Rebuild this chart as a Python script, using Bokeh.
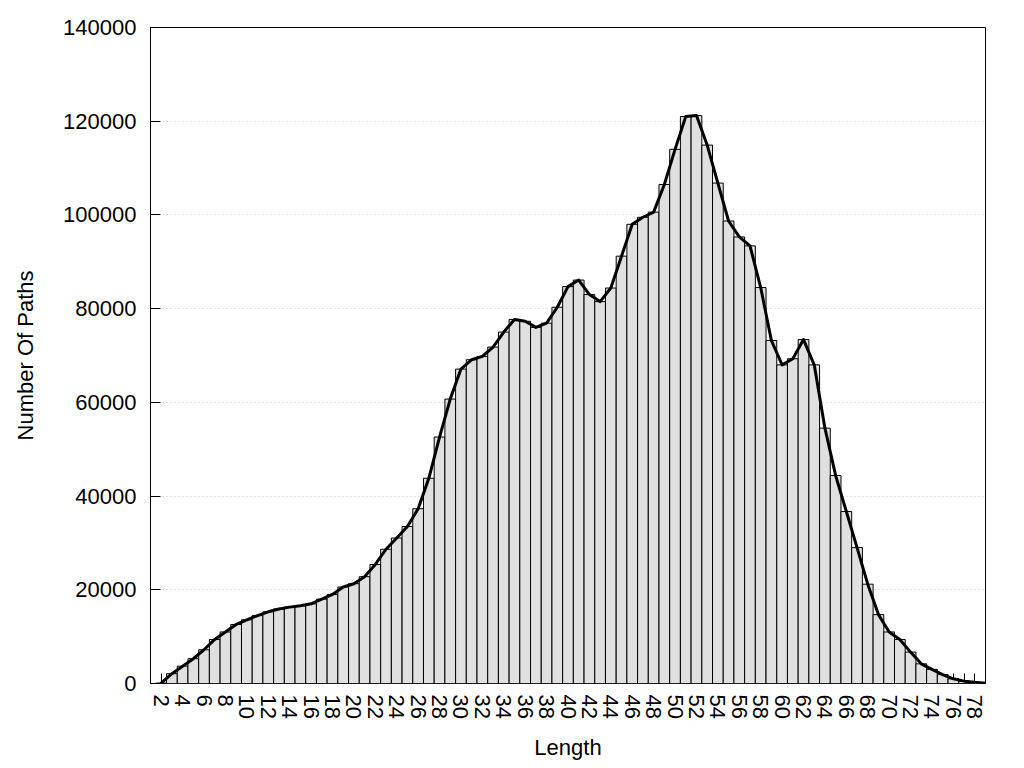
from bokeh.plotting import figure
from bokeh.models import FixedTicker, NumeralTickFormatter, Range1d, ColumnDataSource, LinearAxis
from bokeh.embed import file_html
from bokeh.resources import INLINE

# ---- data ----
lengths = list(range(2, 80))
counts = [
    100, 2100, 3700, 5300, 7200, 9400, 11000, 12600, 13600, 14500,
    15300, 15900, 16300, 16600, 17000, 18000, 19000, 20600, 21300, 22800,
    25400, 28650, 31050, 33500, 37300, 43800, 52600, 60700, 67100, 69100,
    69800, 71800, 75000, 77700, 77300, 76000, 76900, 80300, 84700, 86100,
    83000, 81500, 84400, 91200, 98000, 99500, 100600, 106500, 114000, 121000,
    121200, 114900, 106800, 98700, 95300, 93400, 84500, 73200, 68000, 69300,
    73400, 68000, 54500, 44400, 36700, 29000, 21200, 14700, 11000, 9400,
    6700, 4200, 3000, 1900, 1000, 500, 250, 60,
]
x_label_ticks = list(range(2, 79, 2))
x_minor_ticks = list(range(3, 79, 2))
y_ticks = [0, 20000, 40000, 60000, 80000, 100000, 120000, 140000]

FONT = "Liberation Sans"

src = ColumnDataSource(dict(x=lengths, top=counts))

p = figure(
    width=1000, height=762,
    x_range=Range1d(1, 79), y_range=Range1d(0, 140000),
    output_backend="svg", toolbar_location=None,
    min_border_left=150, min_border_right=15,
    min_border_top=27, min_border_bottom=77,
)

p.vbar(x="x", top="top", width=1, source=src,
       fill_color="#e0e0e0", line_color="black", line_width=1)
p.line(x="x", y="top", source=src, line_width=3, line_color="black",
       line_join="round", line_cap="round")

# frame
p.outline_line_color = "black"
p.outline_line_width = 1
p.outline_line_alpha = 1

# grids
p.xgrid.grid_line_color = None
p.ygrid.grid_line_color = "#c4c4c4"
p.ygrid.grid_line_dash = "1 3"
p.ygrid.grid_line_width = 1

# x axis 1: inward ticks only, drawn beneath the bars
xa = p.xaxis[0]
xa.ticker = FixedTicker(ticks=x_label_ticks, minor_ticks=x_minor_ticks)
xa.major_tick_in = 10
xa.major_tick_out = 0
xa.minor_tick_in = 10
xa.minor_tick_out = 0
xa.major_tick_line_color = "black"
xa.minor_tick_line_color = "black"
xa.major_label_text_font_size = "1px"
xa.major_label_text_alpha = 0
xa.major_label_standoff = 0
xa.axis_line_color = "black"
xa.level = "underlay"

# x axis 2: labels only
xl = LinearAxis(ticker=FixedTicker(ticks=x_label_ticks, minor_ticks=[]))
xl.major_tick_in = 0
xl.major_tick_out = 0
xl.minor_tick_line_color = None
xl.major_tick_line_color = None
xl.axis_line_color = None
xl.major_label_orientation = "vertical"
xl.major_label_text_font = FONT
xl.major_label_text_font_size = "22px"
xl.major_label_text_color = "black"
xl.major_label_standoff = 11
xl.axis_label = "Length"
xl.axis_label_text_font = FONT
xl.axis_label_text_font_size = "22px"
xl.axis_label_text_font_style = "normal"
xl.axis_label_text_color = "black"
xl.axis_label_standoff = 13
p.add_layout(xl, "below")

# y axis
ya = p.yaxis[0]
ya.ticker = FixedTicker(ticks=y_ticks)
ya.formatter = NumeralTickFormatter(format="0")
ya.major_tick_in = 10
ya.major_tick_out = 0
ya.minor_tick_line_color = None
ya.major_tick_line_color = "black"
ya.major_label_text_font = FONT
ya.major_label_text_font_size = "22px"
ya.major_label_text_color = "black"
ya.major_label_standoff = 14
ya.axis_label = "Number Of Paths"
ya.axis_label_text_font = FONT
ya.axis_label_text_font_size = "22px"
ya.axis_label_text_font_style = "normal"
ya.axis_label_text_color = "black"
ya.axis_label_standoff = 22
ya.axis_line_color = "black"

open("out.html", "w").write(file_html(p, INLINE))
